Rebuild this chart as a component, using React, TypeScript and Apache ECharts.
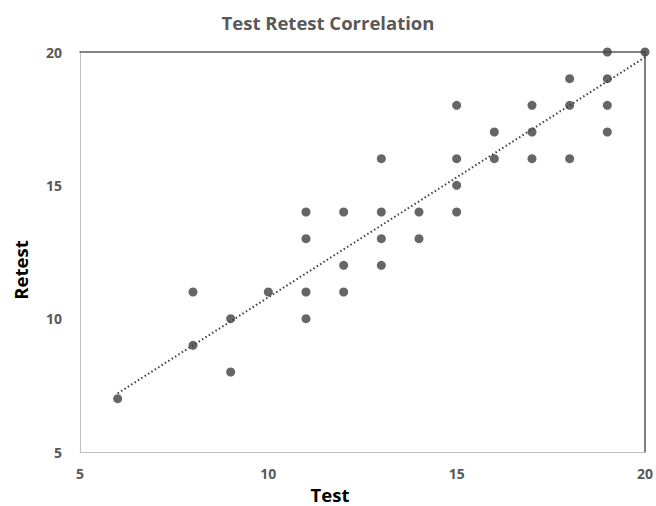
import React, { useEffect, useRef } from "react";
import * as echarts from "echarts";

const testScores = [6, 8, 8, 9, 9, 10, 11, 11, 11, 11, 12, 12, 12, 13, 13, 13, 13, 14, 14, 15, 15, 15, 15, 16, 16, 17, 17, 17, 18, 18, 18, 19, 19, 19, 19, 20];
const retestScores = [7, 11, 9, 10, 8, 11, 14, 13, 11, 10, 14, 12, 11, 16, 14, 13, 12, 14, 13, 18, 16, 15, 14, 17, 16, 18, 17, 16, 19, 18, 16, 20, 19, 18, 17, 20];
const trendStart = [6, 7.2];
const trendEnd = [20, 19.8];
const axisTicks = [5, 10, 15, 20];
const xTitle = "Test";
const yTitle = "Retest";

export default function App() {
  const ref = useRef<HTMLDivElement>(null);
  useEffect(() => {
    if (!ref.current) return;
    document.body.style.margin = "0";
    const chart = echarts.init(ref.current, null, { renderer: "svg" });
    const points = testScores.map((x, i) => [x, retestScores[i]]);
    const font = "'Open Sans', 'Liberation Sans', sans-serif";
    const labelStyle = { color: "#595959", fontWeight: "bold" as const, fontSize: 14, fontFamily: font };
    const nameStyle = { fill: "#000000", fontWeight: "bold", fontSize: 18.5, fontFamily: font, align: "center", verticalAlign: "middle" };
    chart.setOption({
      animation: false,
      backgroundColor: "#ffffff",
      title: {
        text: "Test Retest Correlation",
        left: "center",
        top: 8,
        textStyle: { color: "#595959", fontWeight: "bold", fontSize: 18.5, fontFamily: font },
      },
      graphic: [
        { type: "text", x: 330, y: 494, style: { ...nameStyle, text: xTitle } },
        { type: "text", x: 20, y: 270, rotation: Math.PI / 2, style: { ...nameStyle, text: yTitle } },
      ],
      grid: { left: 80, right: 10, top: 52, bottom: 54 },
      xAxis: [
        {
          type: "value",
          min: axisTicks[0],
          max: axisTicks[axisTicks.length - 1],
          interval: 5,
          axisLine: { show: true, lineStyle: { color: "#bfbfbf", width: 1 } },
          axisTick: { show: false },
          splitLine: { show: false },
          axisLabel: { ...labelStyle, margin: 14 },
        },
        {
          type: "value",
          position: "top",
          min: 5,
          max: 20,
          axisLine: { show: true, lineStyle: { color: "#595959", width: 1.5 } },
          axisTick: { show: false },
          axisLabel: { show: false },
          splitLine: { show: false },
        },
      ],
      yAxis: [
        {
          type: "value",
          min: axisTicks[0],
          max: axisTicks[axisTicks.length - 1],
          interval: 5,
          axisLine: { show: true, lineStyle: { color: "#bfbfbf", width: 1 } },
          axisTick: { show: false },
          splitLine: { show: false },
          axisLabel: { ...labelStyle, margin: 18 },
        },
        {
          type: "value",
          position: "right",
          min: 5,
          max: 20,
          axisLine: { show: true, lineStyle: { color: "#595959", width: 1.5 } },
          axisTick: { show: false },
          axisLabel: { show: false },
          splitLine: { show: false },
        },
      ],
      series: [
        {
          type: "line",
          data: [trendStart, trendEnd],
          symbol: "none",
          lineStyle: { color: "#404040", width: 2, type: [1.5, 2.5] },
          silent: true,
          z: 1,
        },
        {
          type: "scatter",
          data: points,
          symbol: "circle",
          symbolSize: 9,
          itemStyle: { color: "#404040" },
          z: 2,
        },
      ],
    });
    return () => chart.dispose();
  }, []);
  return <div ref={ref} style={{ width: 656, height: 506 }} />;
}
